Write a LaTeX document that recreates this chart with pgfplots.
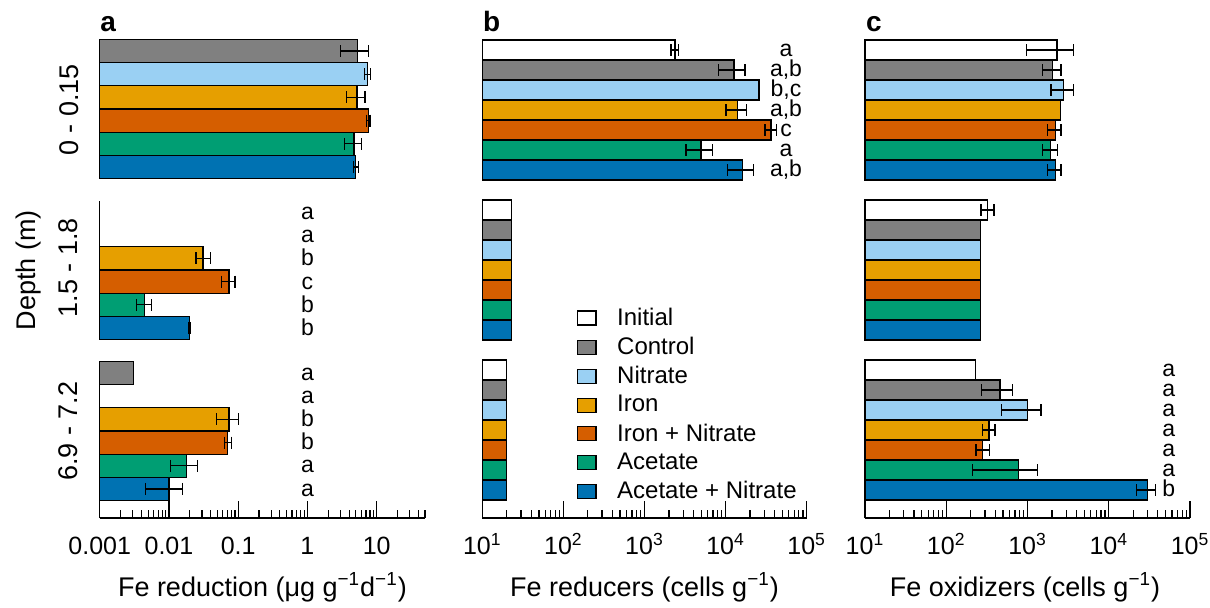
\documentclass[border=0pt]{standalone}
\usepackage{fontspec}
\setmainfont{Liberation Sans}
\usepackage{pgfplots}
\pgfplotsset{compat=1.18}

\definecolor{cInit}{RGB}{255,255,255}
\definecolor{cCtrl}{RGB}{128,128,128}
\definecolor{cNit}{RGB}{154,208,243}
\definecolor{cIron}{RGB}{230,159,0}
\definecolor{cIN}{RGB}{213,94,0}
\definecolor{cAc}{RGB}{0,158,115}
\definecolor{cAN}{RGB}{0,114,178}

\newcommand{\fTick}{\fontsize{12.5}{15}\selectfont}
\newcommand{\fLab}{\fontsize{13.5}{16}\selectfont}
\newcommand{\fSig}{\fontsize{11.5}{13}\selectfont}
\newcommand{\fLeg}{\fontsize{12}{14.4}\selectfont}
\newcommand{\fDepth}{\fontsize{13.5}{16}\selectfont}
\newcommand{\fPanel}{\fontsize{14}{16}\selectfont\bfseries}

% bar: colour, value, slot
\newcommand{\hb}[3]{\addplot[xbar, bar shift=0pt, bar width=1, fill=#1, draw=black, line width=0.6pt, forget plot] coordinates {(#2,#3)};}
% error bar: low, high, slot
\newcommand{\eb}[3]{\addplot[black, line width=0.6pt, mark=|, mark size=3pt, forget plot] coordinates {(#1,#3) (#2,#3)};}
% significance letter: x, slot, shift, text
\newcommand{\sig}[4]{\node[font=\fSig, anchor=base, inner sep=0pt, yshift=#3] at (axis cs:#1,#2) {#4};}

\pgfplotsset{
  every axis/.append style={scale only axis, clip=false, anchor=north west,
    axis y line=left, axis line style={-, black, line width=0.6pt}, ytick=\empty,
    xticklabel style={font=\fTick, anchor=base, yshift=-18pt},
    xlabel style={font=\fLab, at={(axis description cs:0.5,0)}, anchor=base, yshift=-39pt}},
  every tick/.style={black, line width=0.6pt},
  every minor tick/.style={black, line width=0.6pt},
}

\begin{document}
\begin{tikzpicture}
\useasboundingbox (0pt,0pt) rectangle (605pt,-303.5pt);

%================ Panel a ================
\begin{axis}[xmode=log, log origin x=infty, axis x line=none, xmin=0.001, xmax=50, width=162.7pt,
  at={(49.85pt,-19.75pt)}, height=69.5pt, ymin=0.5, ymax=6.5]
\hb{cCtrl}{5.25}{6} \hb{cNit}{7.3}{5} \hb{cIron}{5.2}{4} \hb{cIN}{7.65}{3} \hb{cAc}{4.7}{2} \hb{cAN}{4.9}{1}
\eb{3.0}{7.7}{6} \eb{6.6}{8.1}{5} \eb{3.7}{6.8}{4} \eb{7.1}{8.0}{3} \eb{3.4}{6.0}{2} \eb{4.6}{5.4}{1}
\end{axis}

\begin{axis}[xmode=log, log origin x=infty, axis x line=none, xmin=0.001, xmax=50, width=162.7pt,
  at={(49.85pt,-100.25pt)}, height=69.5pt, ymin=0.5, ymax=6.5]
\hb{cIron}{0.031}{4} \hb{cIN}{0.0736}{3} \hb{cAc}{0.0044}{2} \hb{cAN}{0.0197}{1}
\eb{0.0246}{0.040}{4} \eb{0.058}{0.090}{3} \eb{0.0034}{0.0056}{2} \eb{0.019}{0.0205}{1}
\sig{1}{6}{-3.75pt}{a} \sig{1}{5}{-3.75pt}{a} \sig{1}{4}{-3.75pt}{b}
\sig{1}{3}{-3.75pt}{c} \sig{1}{2}{-3.75pt}{b} \sig{1}{1}{-3.75pt}{b}
\end{axis}

\begin{axis}[xmode=log, log origin x=infty, axis x line=bottom, axis line style={-, black, line width=0.6pt},
  xmin=0.001, xmax=50, width=162.7pt,
  at={(49.85pt,-180.75pt)}, height=78.25pt, ymin=-0.255, ymax=6.5,
  xtick align=inside, major tick length=8.5pt, minor tick length=4pt,
  xtick={0.001,0.01,0.1,1,10}, xticklabels={0.001,0.01,0.1,1,10},
  minor xtick={0.002,0.003,0.004,0.005,0.006,0.007,0.008,0.009,0.02,0.03,0.04,0.05,0.06,0.07,0.08,0.09,0.2,0.3,0.4,0.5,0.6,0.7,0.8,0.9,2,3,4,5,6,7,8,9,20,30,40,50},
  xlabel={Fe reduction (μg g\textsuperscript{−1}d\textsuperscript{−1})}]
\hb{cCtrl}{0.0031}{6} \hb{cIron}{0.0736}{4} \hb{cIN}{0.071}{3} \hb{cAc}{0.018}{2} \hb{cAN}{0.010}{1}
\eb{0.049}{0.100}{4} \eb{0.063}{0.080}{3} \eb{0.0106}{0.0256}{2} \eb{0.0046}{0.0156}{1}
\sig{1}{6}{-3.6pt}{a} \sig{1}{5}{-3.6pt}{a} \sig{1}{4}{-3.6pt}{b}
\sig{1}{3}{-3.6pt}{b} \sig{1}{2}{-3.6pt}{a} \sig{1}{1}{-3.6pt}{a}
\end{axis}

%================ Panel b ================
\begin{axis}[xmode=log, log origin x=infty, axis x line=none, xmin=10, xmax=100000, width=162.2pt,
  at={(241.15pt,-20pt)}, height=70pt, ymin=0.5, ymax=7.5]
\hb{cInit}{2380}{7} \hb{cCtrl}{12700}{6} \hb{cNit}{25800}{5} \hb{cIron}{13900}{4} \hb{cIN}{36300}{3} \hb{cAc}{4980}{2} \hb{cAN}{16100}{1}
\eb{2120}{2610}{7} \eb{8130}{17300}{6} \eb{10100}{18200}{4} \eb{30600}{42600}{3} \eb{3250}{6860}{2} \eb{10500}{22000}{1}
\sig{55600}{7}{-3pt}{a} \sig{55600}{6}{-3pt}{a,b} \sig{55600}{5}{-3pt}{b,c} \sig{55600}{4}{-3pt}{a,b}
\sig{55600}{3}{-3pt}{c} \sig{55600}{2}{-3pt}{a} \sig{55600}{1}{-3pt}{a,b}
\end{axis}

\begin{axis}[xmode=log, log origin x=infty, axis x line=none, xmin=10, xmax=100000, width=162.2pt,
  at={(241.15pt,-100pt)}, height=70pt, ymin=0.5, ymax=7.5]
\hb{cInit}{23}{7} \hb{cCtrl}{23}{6} \hb{cNit}{23}{5} \hb{cIron}{23}{4} \hb{cIN}{23}{3} \hb{cAc}{23}{2} \hb{cAN}{23}{1}
\end{axis}

\begin{axis}[xmode=log, log origin x=infty, axis x line=bottom, axis line style={-, black, line width=0.6pt},
  xmin=10, xmax=100000, width=162.2pt,
  at={(241.15pt,-180pt)}, height=79pt, ymin=-0.4, ymax=7.5,
  xtick align=inside, major tick length=8.5pt, minor tick length=4pt,
  xtick={10,100,1000,10000,100000},
  xticklabels={10\textsuperscript{1},10\textsuperscript{2},10\textsuperscript{3},10\textsuperscript{4},10\textsuperscript{5}},
  minor xtick={20,30,40,50,60,70,80,90,200,300,400,500,600,700,800,900,2000,3000,4000,5000,6000,7000,8000,9000,20000,30000,40000,50000,60000,70000,80000,90000},
  xlabel={Fe reducers (cells g\textsuperscript{−1})},
  legend style={draw=none, fill=none, inner sep=0pt, at={(axis description cs:0.291,1.333)},
    anchor=north west, font=\fLeg, row sep=4.4pt, legend cell align=left,
    nodes={inner sep=0pt},
    /tikz/every odd column/.append style={column sep=10.3pt}},
  legend image code/.code={\draw[#1, draw=black, line width=0.6pt] (0pt,-3.5pt) rectangle (9.15pt,3.5pt);}]
\hb{cInit}{20}{7} \hb{cCtrl}{20}{6} \hb{cNit}{20}{5} \hb{cIron}{20}{4} \hb{cIN}{20}{3} \hb{cAc}{20}{2} \hb{cAN}{20}{1}
\addlegendimage{fill=cInit}\addlegendentry{Initial}
\addlegendimage{fill=cCtrl}\addlegendentry{Control}
\addlegendimage{fill=cNit}\addlegendentry{Nitrate}
\addlegendimage{fill=cIron}\addlegendentry{Iron}
\addlegendimage{fill=cIN}\addlegendentry{Iron + Nitrate}
\addlegendimage{fill=cAc}\addlegendentry{Acetate}
\addlegendimage{fill=cAN}\addlegendentry{Acetate + Nitrate}
\end{axis}

%================ Panel c ================
\begin{axis}[xmode=log, log origin x=infty, axis x line=none, xmin=10, xmax=100000, width=162.5pt,
  at={(432.5pt,-20pt)}, height=70pt, ymin=0.5, ymax=7.5]
\hb{cInit}{2300}{7} \hb{cCtrl}{2040}{6} \hb{cNit}{2790}{5} \hb{cIron}{2560}{4} \hb{cIN}{2200}{3} \hb{cAc}{1930}{2} \hb{cAN}{2200}{1}
\eb{977}{3660}{7} \eb{1520}{2580}{6} \eb{1950}{3660}{5} \eb{1770}{2580}{3} \eb{1540}{2360}{2} \eb{1770}{2580}{1}
\end{axis}

\begin{axis}[xmode=log, log origin x=infty, axis x line=none, xmin=10, xmax=100000, width=162.5pt,
  at={(432.5pt,-100pt)}, height=70pt, ymin=0.5, ymax=7.5]
\hb{cInit}{324}{7} \hb{cCtrl}{265}{6} \hb{cNit}{265}{5} \hb{cIron}{265}{4} \hb{cIN}{265}{3} \hb{cAc}{265}{2} \hb{cAN}{265}{1}
\eb{268}{387}{7}
\end{axis}

\begin{axis}[xmode=log, log origin x=infty, axis x line=bottom, axis line style={-, black, line width=0.6pt},
  xmin=10, xmax=100000, width=162.5pt,
  at={(432.5pt,-180pt)}, height=79pt, ymin=-0.4, ymax=7.5,
  xtick align=inside, major tick length=8.5pt, minor tick length=4pt,
  xtick={10,100,1000,10000,100000},
  xticklabels={10\textsuperscript{1},10\textsuperscript{2},10\textsuperscript{3},10\textsuperscript{4},10\textsuperscript{5}},
  minor xtick={20,30,40,50,60,70,80,90,200,300,400,500,600,700,800,900,2000,3000,4000,5000,6000,7000,8000,9000,20000,30000,40000,50000,60000,70000,80000,90000},
  xlabel={Fe oxidizers (cells g\textsuperscript{−1})}, xlabel style={xshift=-1.25pt}]
\hb{cInit}{230}{7} \hb{cCtrl}{459}{6} \hb{cNit}{1000}{5} \hb{cIron}{336}{4} \hb{cIN}{281}{3} \hb{cAc}{771}{2} \hb{cAN}{30100}{1}
\eb{270}{653}{6} \eb{481}{1466}{5} \eb{278}{398}{4} \eb{232}{339}{3} \eb{209}{1334}{2} \eb{22000}{38000}{1}
\sig{54800}{7}{-3.3pt}{a} \sig{54800}{6}{-3.3pt}{a} \sig{54800}{5}{-3.3pt}{a} \sig{54800}{4}{-3.3pt}{a}
\sig{54800}{3}{-3.3pt}{a} \sig{54800}{2}{-3.3pt}{a} \sig{54800}{1}{-3.3pt}{b}
\end{axis}

%================ Labels ================
\node[font=\fPanel, anchor=base west, inner sep=0pt] at (50pt,-15.85pt) {a};
\node[font=\fPanel, anchor=base west, inner sep=0pt] at (241.35pt,-15.85pt) {b};
\node[font=\fPanel, anchor=base west, inner sep=0pt] at (432.85pt,-15.85pt) {c};
\node[font=\fDepth, rotate=90, anchor=base, inner sep=0pt] at (39.15pt,-55pt) {0 - 0.15};
\node[font=\fDepth, rotate=90, anchor=base, inner sep=0pt] at (38.75pt,-133.75pt) {1.5 - 1.8};
\node[font=\fDepth, rotate=90, anchor=base, inner sep=0pt] at (38.65pt,-215.5pt) {6.9 - 7.2};
\node[font=\fDepth, rotate=90, anchor=base, inner sep=0pt] at (17.5pt,-135pt) {Depth (m)};
\end{tikzpicture}
\end{document}
